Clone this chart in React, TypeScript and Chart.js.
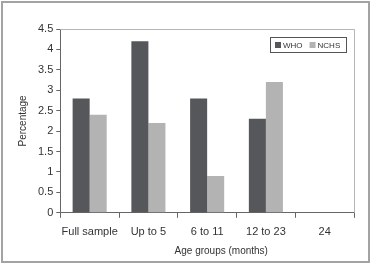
import React, { useEffect, useRef } from "react";
import { Chart, registerables } from "chart.js";

Chart.register(...registerables);

const categories = ["Full sample", "Up to 5", "6 to 11", "12 to 23", "24"];
const whoValues = [2.8, 4.2, 2.8, 2.3, 0];
const nchsValues = [2.4, 2.2, 0.9, 3.2, 0];
const seriesNames = ["WHO", "NCHS"];
const seriesColors = ["#55575b", "#b3b3b3"];
const yTitle = "Percentage";
const xTitle = "Age groups (months)";

const FONT = "Arial, 'Liberation Sans', sans-serif";

const framePlugin = {
  id: "frame",
  beforeDraw(chart: any) {
    const { ctx, width, height } = chart;
    ctx.save();
    ctx.fillStyle = "#ffffff";
    ctx.fillRect(0, 0, width, height);
    ctx.strokeStyle = "#a3a3a3";
    ctx.lineWidth = 2;
    ctx.strokeRect(2, 2, width - 4, height - 4);
    ctx.restore();
  },
  afterDraw(chart: any) {
    const { ctx, chartArea } = chart;
    const { left, right, top, bottom } = chartArea;
    ctx.save();
    // top and right edges of the plot box
    ctx.strokeStyle = "#b5b5b5";
    ctx.lineWidth = 1;
    ctx.beginPath();
    ctx.moveTo(left, top + 0.5);
    ctx.lineTo(right + 0.5, top + 0.5);
    ctx.lineTo(right + 0.5, bottom);
    ctx.stroke();

    // x axis title
    ctx.fillStyle = "#333333";
    ctx.font = `10px ${FONT}`;
    ctx.textAlign = "center";
    ctx.textBaseline = "middle";
    ctx.fillText(xTitle, left + (right - left) * 0.548, 251);

    // legend box
    const bx = 270, by = 37, bw = 76, bh = 15;
    ctx.strokeStyle = "#555555";
    ctx.lineWidth = 1;
    ctx.strokeRect(bx + 0.5, by + 0.5, bw, bh);
    ctx.font = `8px ${FONT}`;
    ctx.textAlign = "left";
    let x = bx + 5;
    seriesNames.forEach((name, i) => {
      ctx.fillStyle = seriesColors[i];
      ctx.fillRect(x, by + 5, 6, 6);
      ctx.fillStyle = "#333333";
      ctx.fillText(name, x + 8, by + 8.5);
      x += 8 + ctx.measureText(name).width + 7;
    });
    ctx.restore();
  },
};

export default function App() {
  const canvasRef = useRef<HTMLCanvasElement>(null);

  useEffect(() => {
    document.body.style.margin = "0";
    const canvas = canvasRef.current;
    if (!canvas) return;
    const chart = new Chart(canvas, {
      type: "bar",
      data: {
        labels: categories,
        datasets: [
          {
            label: seriesNames[0],
            data: whoValues,
            backgroundColor: seriesColors[0],
            borderWidth: 0,
            categoryPercentage: 0.58,
            barPercentage: 1,
          },
          {
            label: seriesNames[1],
            data: nchsValues,
            backgroundColor: seriesColors[1],
            borderWidth: 0,
            categoryPercentage: 0.58,
            barPercentage: 1,
          },
        ],
      },
      options: {
        responsive: false,
        animation: false,
        devicePixelRatio: 1,
        layout: { padding: { top: 29, right: 17, bottom: 17, left: 17 } },
        plugins: {
          legend: { display: false },
          tooltip: { enabled: false },
        },
        scales: {
          x: {
            grid: {
              display: true,
              drawOnChartArea: false,
              drawTicks: true,
              tickLength: 5,
              color: "#666666",
            },
            border: { display: true, color: "#666666", width: 1 },
            ticks: {
              color: "#333333",
              font: { family: FONT, size: 11 },
              padding: 8,
              maxRotation: 0,
              autoSkip: false,
            },
          },
          y: {
            min: 0,
            max: 4.5,
            grid: {
              display: true,
              drawOnChartArea: false,
              drawTicks: true,
              tickLength: 4,
              color: "#666666",
            },
            border: { display: true, color: "#666666", width: 1 },
            ticks: {
              stepSize: 0.5,
              color: "#333333",
              font: { family: FONT, size: 11 },
              padding: 3,
              callback: (v: any) => String(Number(v)),
            },
            title: {
              display: true,
              text: yTitle,
              color: "#333333",
              font: { family: FONT, size: 10 },
              padding: { top: 0, bottom: 6 },
            },
          },
        },
      },
      plugins: [framePlugin],
    });
    return () => chart.destroy();
  }, []);

  return (
    <div style={{ width: 371, height: 264 }}>
      <canvas ref={canvasRef} width={371} height={264} style={{ display: "block" }} />
    </div>
  );
}
